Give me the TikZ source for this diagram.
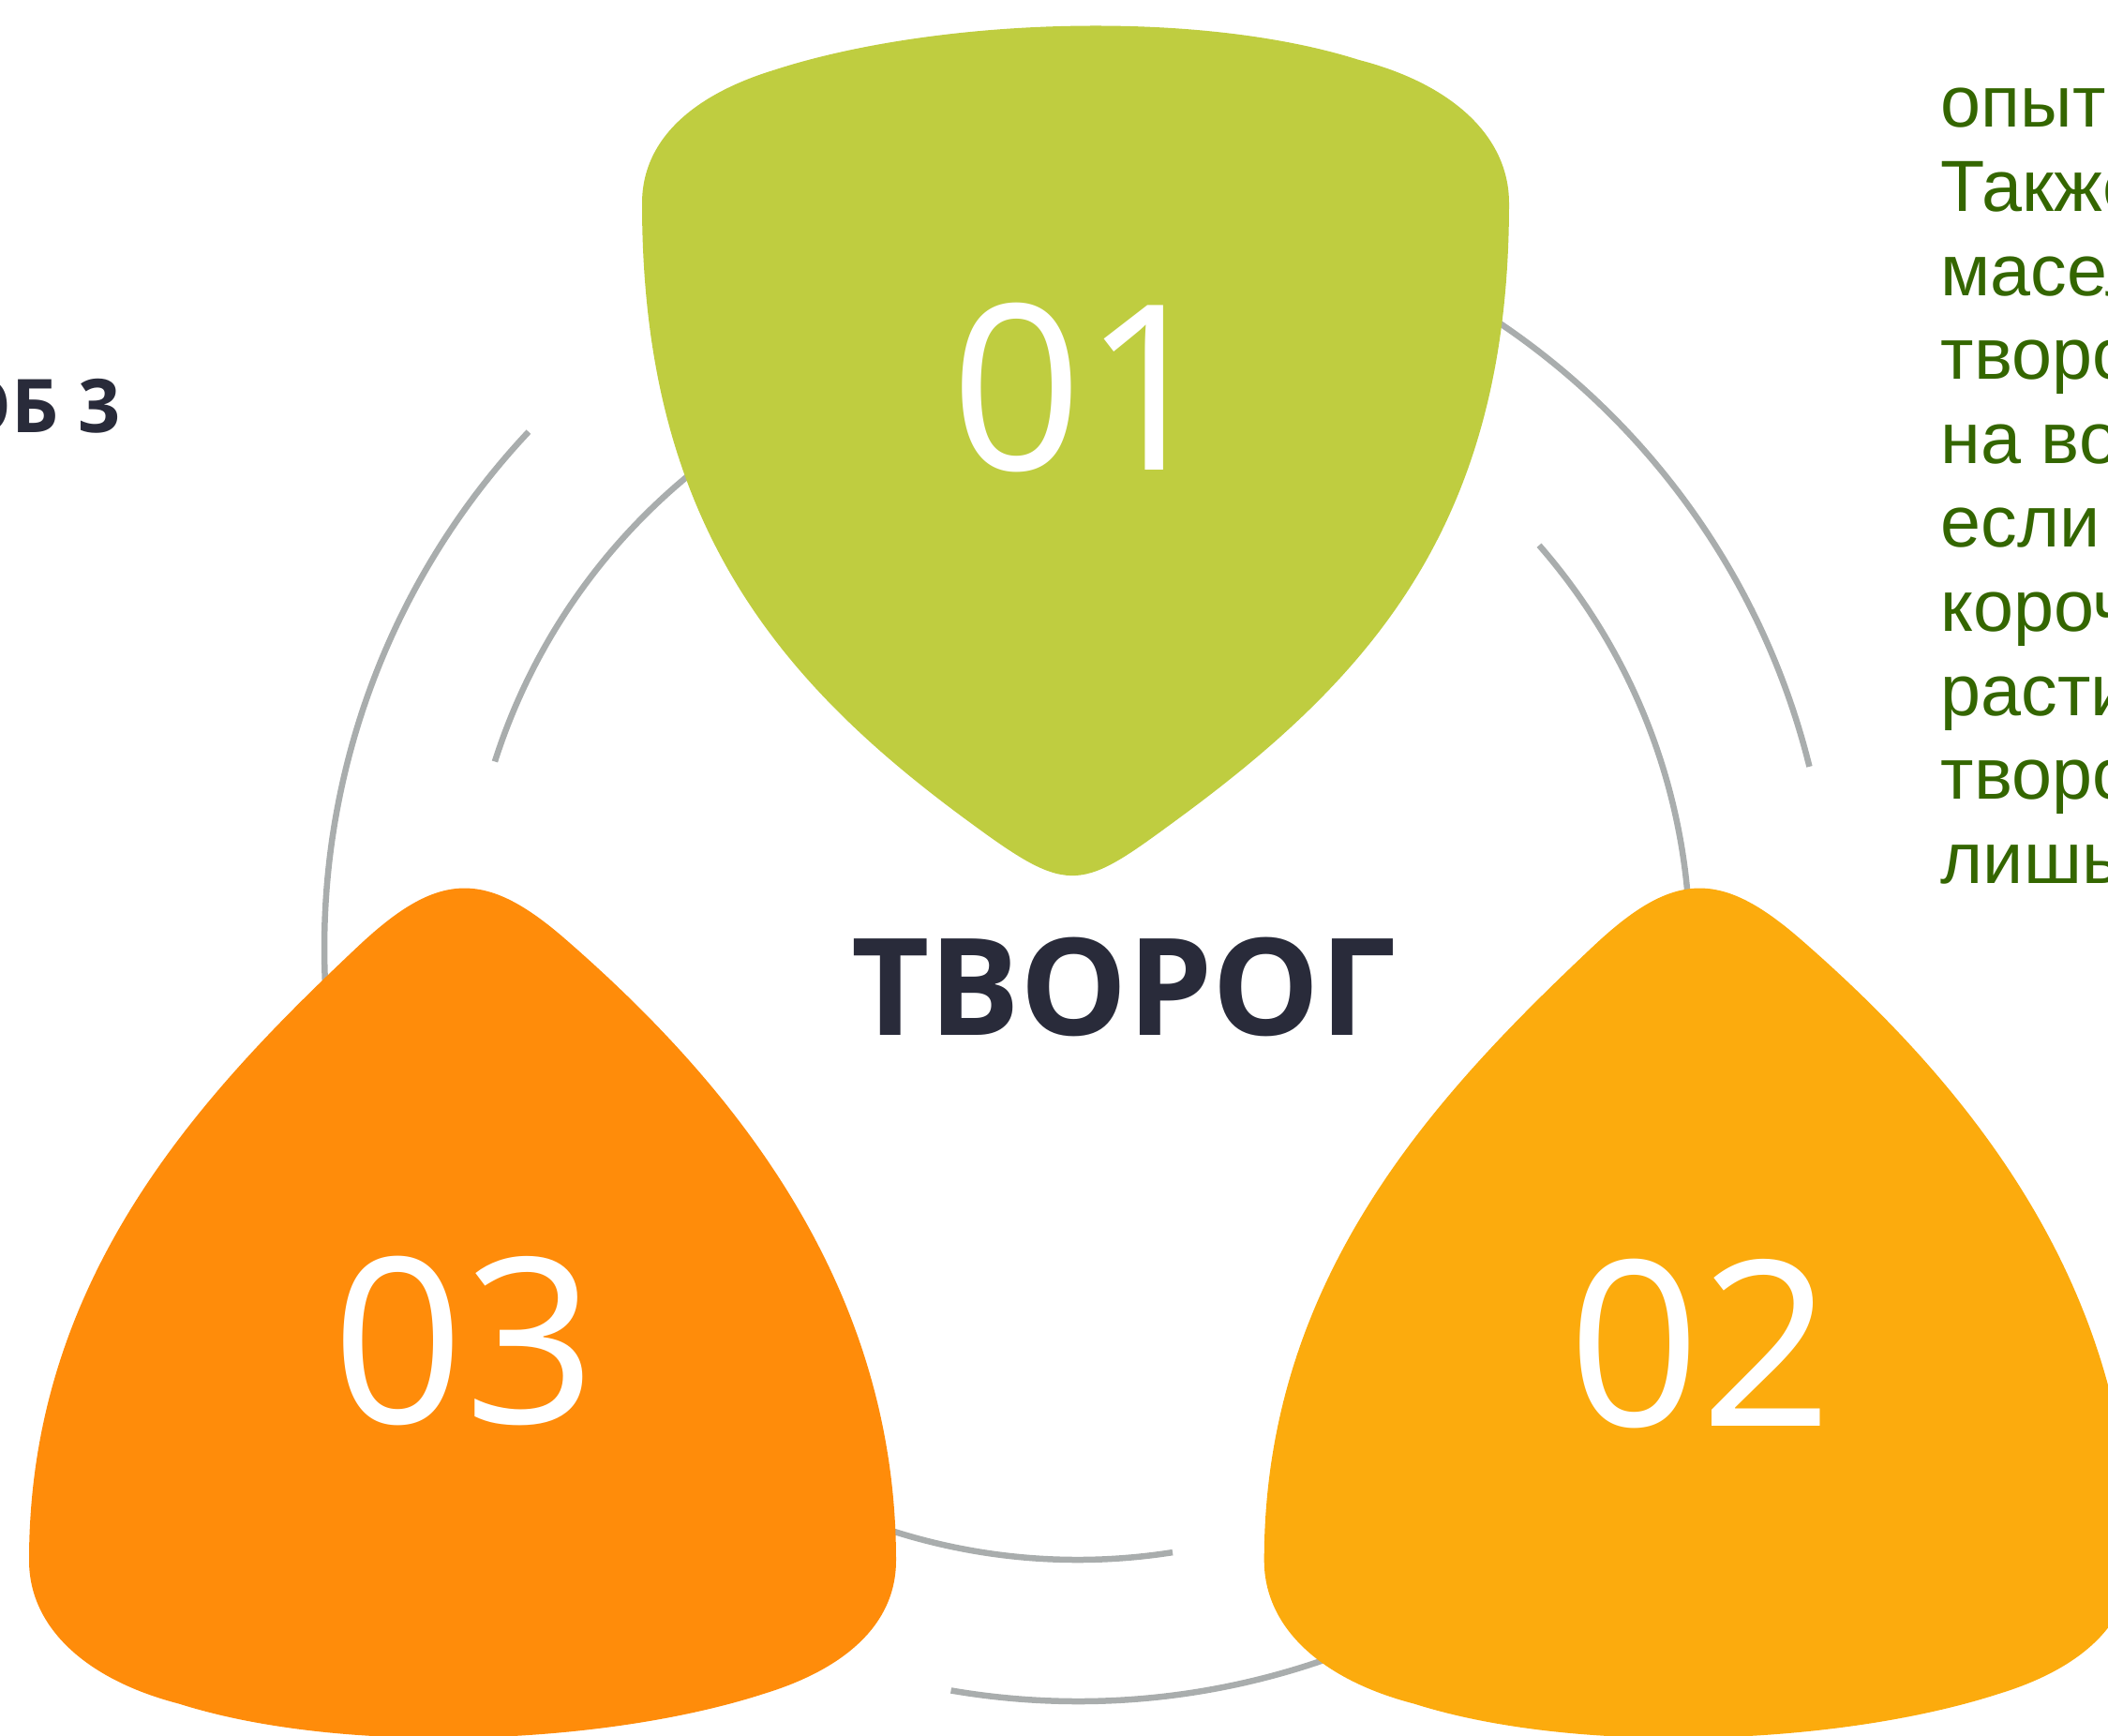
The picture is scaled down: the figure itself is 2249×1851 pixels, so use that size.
\documentclass[tikz,border=0pt]{standalone}
\usepackage{fontspec}
\setmainfont{Open Sans}
\newfontfamily\descfont{Liberation Sans}
\usepackage{tikz}

\definecolor{lime}{RGB}{191,205,64}
\definecolor{amber}{RGB}{252,171,13}
\definecolor{tangerine}{RGB}{255,140,10}
\definecolor{ringgray}{RGB}{169,173,173}
\definecolor{ink}{RGB}{41,43,58}
\definecolor{leaf}{RGB}{52,102,0}

\begin{document}
\begin{tikzpicture}
	[x=0.1mm,y=0.1mm,
	 ring/.style={draw=ringgray,line width=0.65mm},
	 num/.style={text=white,inner sep=0,anchor=base,font=\fontsize{70}{70}\selectfont},
	 desc/.style={text=leaf,inner sep=0,anchor=base west,font=\descfont\fontsize{22}{22}\selectfont}]
	\useasboundingbox (0,0) rectangle (2249,1851);
	\clip (0,0) rectangle (2249,1851);
	\coordinate (c) at (1150,840);
	% rings
	\foreach \a in {13.9,136.8,260.3}
		\draw [ring] (c) ++(\a:804) arc [start angle=\a, delta angle=80, radius=80.4mm];
	\foreach \a in {41.1,162.3,278.9}
		\draw [ring] (c) ++(\a:653) arc [start angle=\a, delta angle=-80, radius=65.3mm];
	% blobs
	\fill [lime, shift={(1147,917)}, rotate=180]
		(110,-55) .. controls (320,-208) and (462,-380) .. (462,-717)
		.. controls (462,-790) and (400,-835) .. (322,-859)
		.. controls (150,-915) and (-130,-925) .. (-303,-870)
		.. controls (-400,-845) and (-463,-790) .. (-463,-717)
		.. controls (-463,-380) and (-320,-215) .. (-112,-62)
		.. controls (-6,16) and (4,23) .. (110,-55) -- cycle;
	\foreach \x/\col in {494/tangerine, 1811.7/amber}
		\fill [\col, shift={(\x,903.4)}]
			(110,-55) .. controls (280,-203) and (462,-417) .. (462,-717)
			.. controls (462,-790) and (400,-835) .. (322,-859)
			.. controls (150,-915) and (-130,-925) .. (-303,-870)
			.. controls (-400,-845) and (-463,-790) .. (-463,-717)
			.. controls (-463,-417) and (-282,-222) .. (-112,-62)
			.. controls (-26,19) and (24,20) .. (110,-55) -- cycle;
	% numbers
	\node [num] (n01) at (1155,1349) {01};
	\node [num] (n02) at (1814,329) {02};
	\node [num] (n03) at (495,332) {03};
	% text
	\node [text=ink, inner sep=0, anchor=base, font=\bfseries\fontsize{41}{41}\selectfont] (title) at (1199,746) {ТВОРОГ};
	\node [text=ink, inner sep=0, anchor=base west, font=\bfseries\fontsize{22.5}{22.5}\selectfont] (method) at (-51,1389) {ОБ 3};
	\foreach \w [count=\i] in {опыт,Также,масел,творо,на во,если,короч,расти,творо,лишь}
		\node [desc] (d\i) at (2070,{1715-(\i-1)*89.6}) {\w};
\end{tikzpicture}
\end{document}
